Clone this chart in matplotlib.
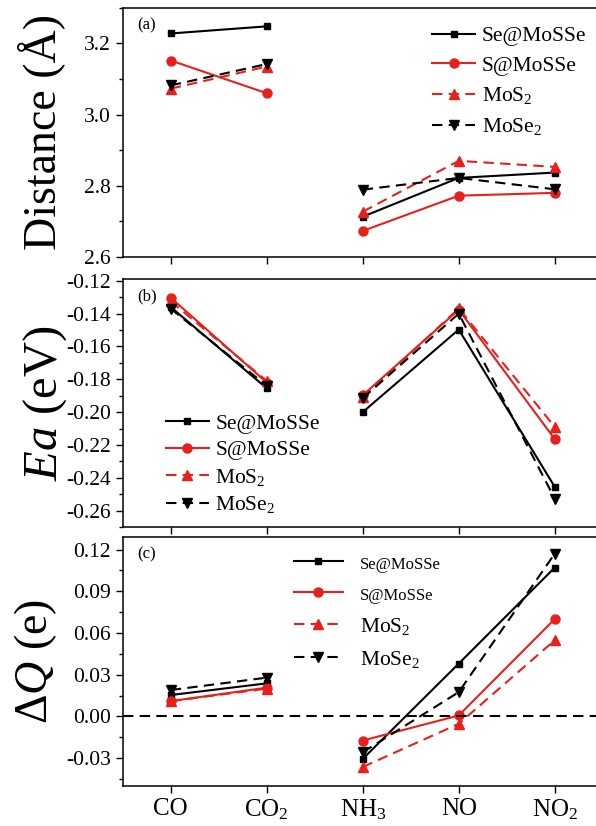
import numpy as np
import matplotlib
matplotlib.use('Agg')
import matplotlib.pyplot as plt
from matplotlib.ticker import MultipleLocator, AutoMinorLocator, FormatStrFormatter

plt.rcParams['font.family'] = ['Liberation Serif', 'DejaVu Serif']
plt.rcParams['mathtext.fontset'] = 'custom'
plt.rcParams['mathtext.rm'] = 'Liberation Serif'
plt.rcParams['mathtext.it'] = 'Liberation Serif:italic'
plt.rcParams['axes.unicode_minus'] = False

gases = ['CO', 'CO$_2$', 'NH$_3$', 'NO', 'NO$_2$']
names = ['Se@MoSSe', 'S@MoSSe', 'MoS$_2$', 'MoSe$_2$']

# distance (A)
dist_se = [3.228, 3.248, 2.713, 2.822, 2.837]
dist_s = [3.152, 3.060, 2.673, 2.772, 2.780]
dist_mos2 = [3.073, 3.135, 2.727, 2.870, 2.853]
dist_mose2 = [3.082, 3.142, 2.789, 2.822, 2.790]

# adsorption energy (eV)
ea_se = [-0.136, -0.1855, -0.200, -0.1497, -0.2455]
ea_s = [-0.1303, -0.182, -0.1897, -0.1376, -0.2164]
ea_mos2 = [-0.1325, -0.181, -0.191, -0.1368, -0.209]
ea_mose2 = [-0.137, -0.184, -0.1915, -0.140, -0.2527]

# charge transfer (e)
dq_se = [0.0154, 0.0238, -0.0305, 0.038, 0.107]
dq_s = [0.011, 0.0207, -0.0173, 0.0007, 0.070]
dq_mos2 = [0.011, 0.020, -0.0363, -0.0053, 0.0548]
dq_mose2 = [0.019, 0.0279, -0.0257, 0.0175, 0.117]

red = '#e8201c'
styles = [dict(color='black', ls='-', marker='s', ms=5),
          dict(color=red, ls='-', marker='o', ms=6.5),
          dict(color=red, ls=(0, (5, 3)), marker='^', ms=6.5),
          dict(color='black', ls=(0, (5, 3)), marker='v', ms=6.5)]

x = np.arange(len(gases))

fig = plt.figure(figsize=(5.96, 8.26), dpi=100)
ax_a = fig.add_axes([0.206, 0.689, 0.794, 0.3015])
ax_b = fig.add_axes([0.206, 0.362, 0.794, 0.300])
ax_c = fig.add_axes([0.206, 0.0484, 0.794, 0.3015])


def draw(ax, series):
    for vals, st, nm in zip(series, styles, names):
        v = np.array(vals)
        ax.plot(x[:2], v[:2], lw=1.5, label=nm, **st)
        ax.plot(x[2:], v[2:], lw=1.5, **st)
    ax.set_xlim(-0.5, 4.43)
    ax.set_xticks(x)
    ax.spines['right'].set_visible(False)
    ax.tick_params(axis='both', direction='out', labelsize=15.5, width=1, length=5)
    ax.tick_params(axis='y', which='minor', direction='out', length=3, width=1)
    ax.tick_params(axis='x', which='minor', bottom=False)
    for s in ax.spines.values():
        s.set_linewidth(1.1)


draw(ax_a, [dist_se, dist_s, dist_mos2, dist_mose2])
ax_a.set_ylim(2.6, 3.3)
ax_a.yaxis.set_major_locator(MultipleLocator(0.2))
ax_a.yaxis.set_minor_locator(AutoMinorLocator(2))
ax_a.yaxis.set_major_formatter(FormatStrFormatter('%.1f'))
ax_a.set_xticklabels([])
ax_a.set_ylabel('Distance (Å)', fontsize=33, va='center')
ax_a.yaxis.set_label_coords(-0.172, 0.5)
ax_a.text(0.03, 0.93, '(a)', transform=ax_a.transAxes, fontsize=12, va='center', ha='left')
ax_a.legend(loc='upper right', bbox_to_anchor=(1.02, 1.005), frameon=False, fontsize=15.5,
            handlelength=2.0, handletextpad=0.3, labelspacing=0.45, numpoints=1)

draw(ax_b, [ea_se, ea_s, ea_mos2, ea_mose2])
ax_b.set_ylim(-0.27, -0.119)
ax_b.yaxis.set_major_locator(MultipleLocator(0.02))
ax_b.yaxis.set_minor_locator(AutoMinorLocator(2))
ax_b.yaxis.set_major_formatter(FormatStrFormatter('%.2f'))
ax_b.set_xticklabels([])
ax_b.set_ylabel('$\\mathit{Ea}$ (eV)', fontsize=35, va='center')
ax_b.yaxis.set_label_coords(-0.165, 0.5)
ax_b.text(0.03, 0.93, '(b)', transform=ax_b.transAxes, fontsize=12, va='center', ha='left')
ax_b.legend(loc='lower left', bbox_to_anchor=(0.05, -0.03), frameon=False, fontsize=15.5,
            handlelength=2.0, handletextpad=0.3, labelspacing=0.3, numpoints=1)

draw(ax_c, [dq_se, dq_s, dq_mos2, dq_mose2])
ax_c.axhline(0, color='black', ls=(0, (5, 3)), lw=1.5)
ax_c.set_ylim(-0.05, 0.129)
ax_c.yaxis.set_major_locator(MultipleLocator(0.03))
ax_c.yaxis.set_minor_locator(AutoMinorLocator(2))
ax_c.yaxis.set_major_formatter(FormatStrFormatter('%.2f'))
ax_c.set_xticklabels(gases, fontsize=18)
ax_c.set_ylabel('Δ$\\mathit{Q}$ (e)', fontsize=33, va='center')
ax_c.yaxis.set_label_coords(-0.185, 0.5)
ax_c.text(0.03, 0.93, '(c)', transform=ax_c.transAxes, fontsize=12, va='center', ha='left')
leg = ax_c.legend(loc='upper left', bbox_to_anchor=(0.32, 1.01), frameon=False, fontsize=15.5,
                  handlelength=2.3, handletextpad=0.8, labelspacing=0.55, numpoints=1)
for t in leg.get_texts()[:2]:
    t.set_fontsize(12)

fig.savefig('out.png', dpi=100)
